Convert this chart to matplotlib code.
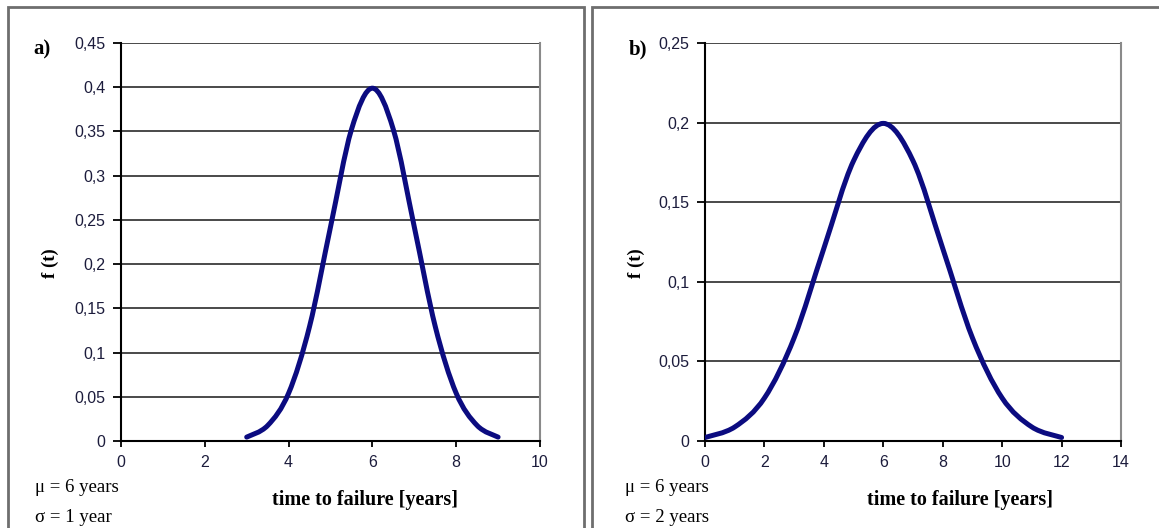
import numpy as np
import matplotlib.pyplot as plt
from matplotlib.patches import Rectangle, PathPatch
from matplotlib.path import Path

# values
t_a = [3, 3.5, 4, 4.5, 5, 5.5, 6, 6.5, 7, 7.5, 8, 8.5, 9]
f_a = [0.0044, 0.0175, 0.054, 0.1295, 0.242, 0.3521, 0.3989,
       0.3521, 0.242, 0.1295, 0.054, 0.0175, 0.0044]

t_b = [0, 1, 2, 3, 4, 5, 6, 7, 8, 9, 10, 11, 12]
f_b = [0.0022, 0.0088, 0.027, 0.0648, 0.121, 0.176, 0.1995,
       0.176, 0.121, 0.0648, 0.027, 0.0088, 0.0022]

yticks_a = [0, 0.05, 0.1, 0.15, 0.2, 0.25, 0.3, 0.35, 0.4, 0.45]
ylabels_a = ['0', '0,05', '0,1', '0,15', '0,2', '0,25', '0,3', '0,35', '0,4', '0,45']
xticks_a = [0, 2, 4, 6, 8, 10]

yticks_b = [0, 0.05, 0.1, 0.15, 0.2, 0.25]
ylabels_b = ['0', '0,05', '0,1', '0,15', '0,2', '0,25']
xticks_b = [0, 2, 4, 6, 8, 10, 12, 14]

W, H = 1159, 528
fig = plt.figure(figsize=(W / 100, H / 100), dpi=100)

serif = 'Liberation Serif'
sans = 'Liberation Sans'
line_col = '#0b0b80'
tick_col = '#1c1c3c'


def px(x0, y0, x1, y1):
    # pixel box (top-left origin) -> figure fraction rect
    return [x0 / W, 1 - y1 / H, (x1 - x0) / W, (y1 - y0) / H]


def smooth_path(t, f):
    # Excel-like smoothed line: cubic bezier segments through the points
    p = np.column_stack([t, f])
    ext = np.vstack([p[0], p, p[-1]])
    verts = [p[0]]
    codes = [Path.MOVETO]
    for i in range(len(p) - 1):
        p0, p1, p2, p3 = ext[i], ext[i + 1], ext[i + 2], ext[i + 3]
        verts += [p1 + (p2 - p0) / 6, p2 - (p3 - p1) / 6, p2]
        codes += [Path.CURVE4] * 3
    return Path(verts, codes)


def panel(rect, t, f, xt, yt, ylab, xmax, ymax):
    ax = fig.add_axes(rect)
    ax.add_patch(PathPatch(smooth_path(t, f), fill=False, ec=line_col,
                           lw=3.6, capstyle='round', joinstyle='round', zorder=3))
    ax.set_xlim(0, xmax)
    ax.set_ylim(0, ymax)
    ax.set_xticks(xt)
    ax.set_yticks(yt)
    ax.set_yticklabels(ylab)
    for y in yt[1:]:
        ax.axhline(y, color='#3a3a3a', lw=1.3, zorder=1)
    ax.spines['top'].set_visible(False)
    ax.spines['right'].set_color('#8a8a8a')
    ax.spines['right'].set_linewidth(1.5)
    ax.spines['left'].set_linewidth(1.5)
    ax.spines['bottom'].set_linewidth(1.5)
    ax.tick_params(axis='y', direction='out', length=6, width=1.3, pad=5,
                   labelsize=11.5, labelcolor=tick_col)
    ax.tick_params(axis='x', direction='out', length=4, width=1.3, pad=6,
                   labelsize=11.5, labelcolor=tick_col)
    for lab in ax.get_xticklabels() + ax.get_yticklabels():
        lab.set_family(sans)
    return ax


# panel frames
fig.patches.append(Rectangle((8 / W, -0.1), 576 / W, 1 - 7 / H + 0.1,
                             transform=fig.transFigure, fill=False,
                             ec='#6e6e6e', lw=2))
fig.patches.append(Rectangle((592 / W, -0.1), 0.6, 1 - 7 / H + 0.1,
                             transform=fig.transFigure, fill=False,
                             ec='#6e6e6e', lw=2))

panel(px(121, 43, 540, 441), t_a, f_a, xticks_a, yticks_a, ylabels_a, 10, 0.45)
panel(px(705, 43, 1121, 441), t_b, f_b, xticks_b, yticks_b, ylabels_b, 14, 0.25)

texts = [(0, 'a)', 'σ = 1 year', 33, 50, 365),
         (590, 'b)', 'σ = 2 years', 39, 46, 960)]
for x0, tag, sig, tagx, ylx, xl in texts:
    fig.text((tagx + x0) / W, 1 - 49 / H, tag,
             family=serif, weight='bold', fontsize=15, va='center')
    fig.text((ylx + x0) / W, 1 - 263 / H, 'f (t)',
             family=serif, weight='bold', fontsize=13.5, rotation=90,
             ha='center', va='center')
    fig.text((35 + x0) / W, 1 - 488 / H, 'μ = 6 years',
             family=serif, fontsize=13.5, va='center')
    fig.text((35 + x0) / W, 1 - 517 / H, sig,
             family=serif, fontsize=13.5, va='center')
    fig.text(xl / W, 1 - 500 / H, 'time to failure [years]',
             family=serif, weight='bold', fontsize=14.5, ha='center', va='center')

fig.savefig('out.png', dpi=100)
